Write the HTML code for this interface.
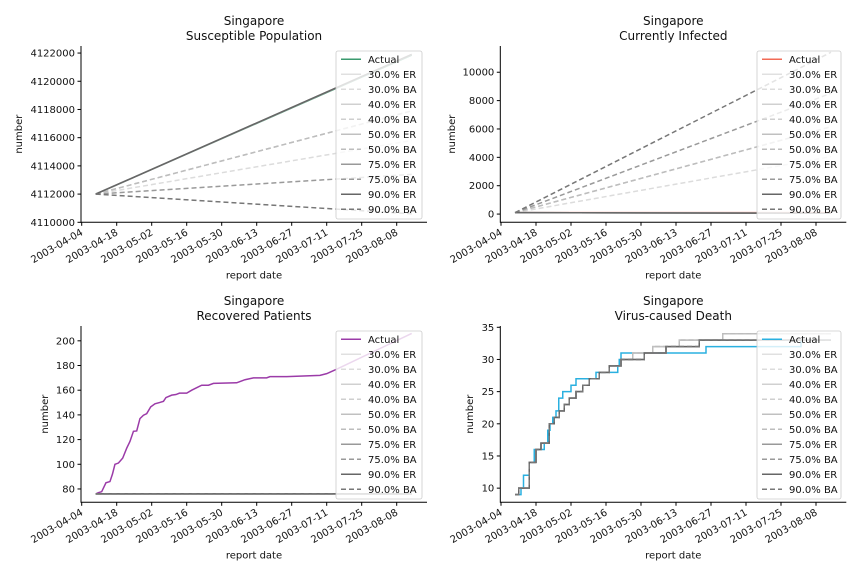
<!DOCTYPE html>
<html><head><meta charset="utf-8"><style>
body{margin:0;background:#fff;}
svg{display:block;font-family:"DejaVu Sans","Liberation Sans",sans-serif;}
</style></head><body>
<svg id="fig" width="864" height="576" viewBox="0 0 864 576"></svg>
<script>
// ---- data ----
const tickDays = [0,14,28,42,56,70,84,98,112,126];
const tickLabels = ["2003-04-04","2003-04-18","2003-05-02","2003-05-16","2003-05-30","2003-06-13","2003-06-27","2003-07-11","2003-07-25","2003-08-08"];
const seriesNames = ["30.0% ER","30.0% BA","40.0% ER","40.0% BA","50.0% ER","50.0% BA","75.0% ER","75.0% BA","90.0% ER","90.0% BA"];
const seriesColors = ["#e0e0e0","#dcdcdc","#d0d0d0","#cfcfcf","#c0c0c0","#bdbdbd","#999999","#9a9a9a","#666666","#777777"];
const lineDays = [5.6,132];

// panel 1 susceptible
const susActual = [4112000,4121850];
const susModels = [[4112000,4121900],[4112000,4115800],[4112000,4121900],[4112000,4117900],[4112000,4121900],[4112000,4117900],[4112000,4121900],[4112000,4113400],[4112000,4121900],[4112000,4110600]];
const susTicks = [4110000,4112000,4114000,4116000,4118000,4120000,4122000];

// panel 2 infected
const infActual = [100,100];
const infModels = [[100,60],[100,4045],[100,60],[100,6160],[100,60],[100,6160],[100,60],[100,8518],[100,60],[100,11410]];
const infTicks = [0,2000,4000,6000,8000,10000];

// panel 3 recovered
const recDays = [5.6,6.65,8.0,9.7,11.3,12.3,13.3,14.7,16.4,18.0,19.3,20.7,22.0,23.3,24.7,26.0,27.6,29.3,31.1,32.7,33.7,36.0,37.7,39.1,42.0,44.0,46.0,48.0,50.7,52.7,62.0,65.3,68.7,74.0,75.3,82.0,95.3,98.0,102.0,132.0];
const recValues = [76,77,77.8,85,86,92,100,101,105,113,118.5,126.7,127,137,139.7,141,146.5,149,150,151,154,156,156.5,157.6,157.6,160,162,164,164,165.5,166,168.5,170,170,171,171,172,173.4,177,206];
const recModel = [76,76];
const recTicks = [80,100,120,140,160,180,200];

// panel 4 deaths (step series)
const dthDays = [5.6,8,9,11.3,13.3,17.3,18.7,19.6,20.7,22,23.1,24.7,28,30,31.3,38,46.7,47.3,48,82,120,132];
const dthValues = [9,10,12,14,16,17,19,20,21,22,24,25,26,27,27,28,29,30,31,32,33,33];
const darkDays = [5.6,7.1,11.3,14,16,19.3,21.3,23.3,25.3,27.3,30,32.7,35.3,39.3,43.3,48,57.3,66,79.3,132];
const darkValues = [9,10,14,16,17,20,21,22,23,24,25,26,27,28,29,30,31,32,33,33];
const lightDays = [5.6,7.1,11.3,14,16,19.3,21.3,23.3,25.3,27.3,30,32.7,35.3,39.3,43.3,48,52.7,60.7,71.3,88.7,132];
const lightValues = [9,10,14,16,17,20,21,22,23,24,25,26,27,28,29,30,31,32,33,34,34];
const dthTicks = [10,15,20,25,30,35];

// ---- drawing ----
const NS="http://www.w3.org/2000/svg";
const svg=document.getElementById('fig');
function mk(tag,attrs,parent){const e=document.createElementNS(NS,tag);for(const k in attrs)e.setAttribute(k,attrs[k]);(parent||svg).appendChild(e);return e;}

function panel(o){
  const g=mk('g',{});
  
  
  const L=o.left,R=o.left+346,T=46+o.dy,B=222.3+o.dy;
  const xs=d=>L+0.7+d*2.5;
  const ys=v=>B-(v-o.ymin)/(o.ymax-o.ymin)*(B-T);
  const t1=mk('text',{x:(L+R)/2,y:25+o.dy,'text-anchor':'middle','font-size':12,fill:'#111'},g);t1.textContent='Singapore';
  
  
  const t2=mk('text',{x:(L+R)/2,y:40+o.dy,'text-anchor':'middle','font-size':12,fill:'#111'},g);t2.textContent=o.title;
  
  
  const pts=(ds,vs,step)=>{let p=[];for(let i=0;i<ds.length;i++){if(step&&i>0)p.push(xs(ds[i])+','+ys(vs[i-1]));p.push(xs(ds[i])+','+ys(vs[i]));}return p.join(' ');};
  const a=mk('polyline',{points:pts(o.aDays,o.aVals,o.step),fill:'none',stroke:o.color,'stroke-width':1.5},g);
  
  
  for(let i=0;i<10;i++){
    const m=o.models[i];
    const pl=mk('polyline',{points:pts(m.d,m.v,o.step),fill:'none',stroke:seriesColors[i],'stroke-width':1.5,'stroke-dasharray':i%2?'5,3':'none'},g);
    
    
  }
  const ax=mk('path',{d:`M${L},${T}V${B}H${R}`,fill:'none',stroke:'#000','stroke-width':1},g);
  
  
  o.yt.forEach(v=>{const y=ys(v);mk('line',{x1:L-3.5,x2:L,y1:y,y2:y,stroke:'#000'},g);
    const tx=mk('text',{x:L-6,y:y+3.5,'text-anchor':'end','font-size':10,fill:'#111'},g);tx.textContent=v;
    
    });
  tickDays.forEach((d,i)=>{const x=L+0.7+d*2.5;mk('line',{x1:x,x2:x,y1:B,y2:B+3.5,stroke:'#000'},g);
    const tx=mk('text',{x:x+2,y:B+12,'text-anchor':'end','font-size':10,fill:'#111',transform:`rotate(-30 ${x+2} ${B+12})`},g);tx.textContent=tickLabels[i];
    
    });
  const xl=mk('text',{x:(L+R)/2,y:B+56,'text-anchor':'middle','font-size':10,fill:'#111'},g);xl.textContent='report date';
  
  
  const yl=mk('text',{x:o.ylx,y:(T+B)/2,'text-anchor':'middle','font-size':10,fill:'#111',transform:`rotate(-90 ${o.ylx} ${(T+B)/2})`},g);yl.textContent='number';
  
  
  const lx=o.legX,ly=5+o.dy+46;
  const lg=mk('g',{},g);
  
  
  mk('rect',{x:lx,y:ly,width:o.legW,height:168,rx:2,fill:'#fff','fill-opacity':0.8,stroke:'#ccc','stroke-width':0.8},lg);
  const names=['Actual'].concat(seriesNames),cols=[o.color].concat(seriesColors);
  names.forEach((n,i)=>{const y=ly+8.3+i*15;
    mk('line',{x1:lx+5,x2:lx+25,y1:y,y2:y,stroke:cols[i],'stroke-width':1.5,'stroke-dasharray':(i>0&&i%2==0)?'5,3':'none'},lg);
    const tx=mk('text',{x:lx+32,y:y+3.5,'font-size':10,fill:'#111'},lg);tx.textContent=n;
    
    });
}
const lin=arr=>arr.map(v=>({d:lineDays,v:v}));
panel({name:'susceptible',title:'Susceptible Population',left:81,dy:0,ymin:4110000,ymax:4122500,yt:susTicks,color:'#3a9a6e',aDays:lineDays,aVals:susActual,models:lin(susModels),ylx:22,legX:336,legW:86});
panel({name:'infected',title:'Currently Infected',left:500.3,dy:0,ymin:-580,ymax:11850,yt:infTicks,color:'#f26a55',aDays:lineDays,aVals:infActual,models:lin(infModels),ylx:455,legX:757,legW:84});
panel({name:'recovered',title:'Recovered Patients',left:81,dy:280,ymin:69.2,ymax:212,yt:recTicks,color:'#9b3ba8',aDays:recDays,aVals:recValues,models:lin(Array(10).fill(recModel)),ylx:48,legX:336,legW:86});
panel({name:'deaths',title:'Virus-caused Death',left:500.3,dy:280,ymin:7.8,ymax:35.2,yt:dthTicks,color:'#2ab0e0',aDays:dthDays,aVals:dthValues,step:true,
  models:seriesNames.map((n,i)=>i<6?{d:lightDays,v:lightValues}:{d:darkDays,v:darkValues}),ylx:473,legX:757,legW:84});
</script>
</body></html>
